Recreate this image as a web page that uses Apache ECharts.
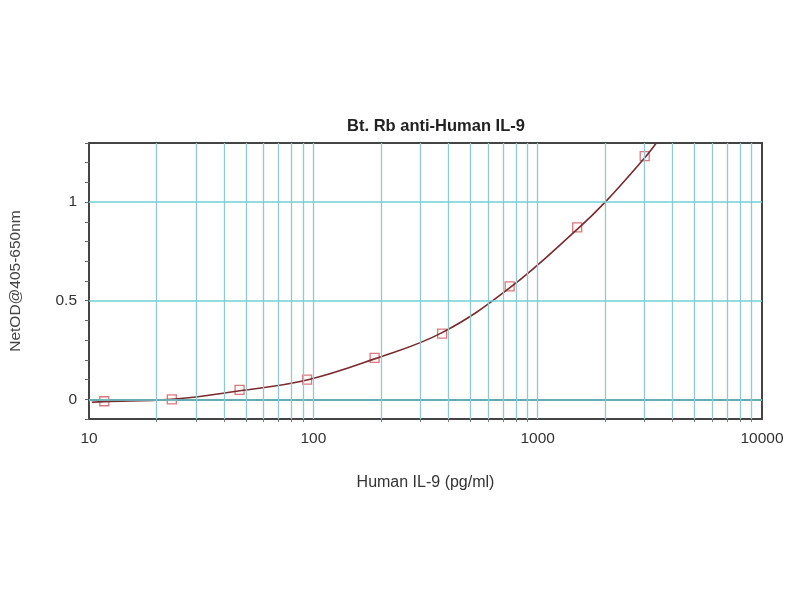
<!DOCTYPE html>
<html>
<head>
<meta charset="utf-8">
<script src="https://cdn.jsdelivr.net/npm/echarts@6/dist/echarts.min.js"></script>
<style>
html,body{margin:0;padding:0;background:#fff;}
#chart{width:800px;height:600px;}
</style>
</head>
<body>
<div id="chart"></div>
<script>
// Standard points (concentration pg/ml, NetOD)
var concentrations = [11.7, 23.4, 46.9, 93.75, 187.5, 375, 750, 1500, 3000];
var netOD = [-0.01, 0.0, 0.048, 0.10, 0.21, 0.333, 0.573, 0.872, 1.233];
// Fitted curve, points
var curveX = [10.3, 11.7, 23.4, 46.9, 93.75, 187.5, 375, 750, 1500, 2000, 3000, 3380];
var curveY = [-0.015, -0.012, 0.0, 0.043, 0.098, 0.205, 0.338, 0.565, 0.862, 1.0, 1.225, 1.30];
// Tick / grid positions
var xMajorTicks = [10, 100, 1000, 10000];
var xMinorTicks = [20,30,40,50,60,70,80,90,200,300,400,500,600,700,800,900,2000,3000,4000,5000,6000,7000,8000,9000];
var xGridValues = [20,30,40,50,60,70,80,90,100,200,300,400,500,600,700,800,900,1000,2000,3000,4000,5000,6000,7000,8000,9000];
var yGridValues = [0, 0.5, 1];
var yLabelValues = [0, 0.5, 1];

var chart = echarts.init(document.getElementById('chart'));
var fontFam = '"Liberation Sans", Arial, sans-serif';

function zip(a, b){ return a.map(function(v,i){ return [v, b[i]]; }); }

chart.setOption({
  animation: false,
  backgroundColor: '#ffffff',
  title: {
    text: 'Bt. Rb anti-Human IL-9',
    left: 431, textAlign: 'center', top: 113,
    textStyle: {fontFamily: fontFam, fontSize: 16.5, fontWeight: 'bold', color: '#222'}
  },
  grid: {left: 89, right: 38, top: 143, bottom: 181, containLabel: false, outerBoundsMode: 'none',
    show: true, borderColor: '#444', borderWidth: 2, backgroundColor: 'transparent'},
  xAxis: [{
    type: 'log', logBase: 10, min: 10, max: 10000,
    name: 'Human IL-9 (pg/ml)', nameLocation: 'middle', nameGap: 56,
    nameTextStyle: {fontFamily: fontFam, fontSize: 16, color: '#333'},
    axisLine: {show: true, lineStyle: {color: '#444', width: 2}},
    axisTick: {show: true, length: 6, customValues: xMajorTicks, lineStyle: {color: '#555'}},
    splitLine: {show: false},
    axisLabel: {fontFamily: fontFam, fontSize: 15.5, color: '#333', margin: 12,
      customValues: xMajorTicks,
      formatter: function(v){ return String(Math.round(v)); }}
  }, {
    type: 'log', logBase: 10, min: 10, max: 10000, position: 'bottom',
    axisLine: {show: false},
    axisTick: {show: true, length: 3, customValues: xMinorTicks, lineStyle: {color: '#777'}},
    axisLabel: {show: false},
    splitLine: {show: false}
  }],
  yAxis: {
    type: 'value', min: -0.1, max: 1.3, interval: 0.1,
    name: 'NetOD@405-650nm', nameLocation: 'middle', nameGap: 65,
    nameTextStyle: {fontFamily: fontFam, fontSize: 15.5, color: '#444'},
    axisLine: {show: true, lineStyle: {color: '#444', width: 2}},
    axisTick: {show: true, length: 4, lineStyle: {color: '#666'}},
    splitLine: {show: false},
    axisLabel: {
      fontFamily: fontFam, fontSize: 15.5, color: '#333', margin: 12,
      formatter: function(v){
        for (var i = 0; i < yLabelValues.length; i++) {
          if (Math.abs(v - yLabelValues[i]) < 1e-6) return String(yLabelValues[i]);
        }
        return '';
      }
    }
  },
  series: [
    {
      type: 'line', name: 'grid', data: [], silent: true,
      markLine: {
        silent: true, symbol: 'none', animation: false, label: {show: false},
        data: xGridValues.map(function(v){ return {xAxis: v, lineStyle: {color: '#93c9ce', width: 1.3, type: 'solid'}}; })
          .concat(yGridValues.map(function(v){ return {yAxis: v, lineStyle: {color: '#6fd0d4', width: 1.5, type: 'solid'}}; }))
      }
    },
    {
      type: 'line', name: 'fit', data: zip(curveX, curveY), smooth: 0.4,
      showSymbol: false, symbol: 'none', clip: true,
      lineStyle: {color: '#7a2a2e', width: 1.6}
    },
    {
      type: 'scatter', name: 'standards', data: zip(concentrations, netOD),
      symbol: 'rect', symbolSize: 9,
      itemStyle: {color: 'rgba(255,235,235,0.4)', borderColor: '#d0585c', borderWidth: 1.3}
    }
  ]
});
</script>
</body>
</html>
